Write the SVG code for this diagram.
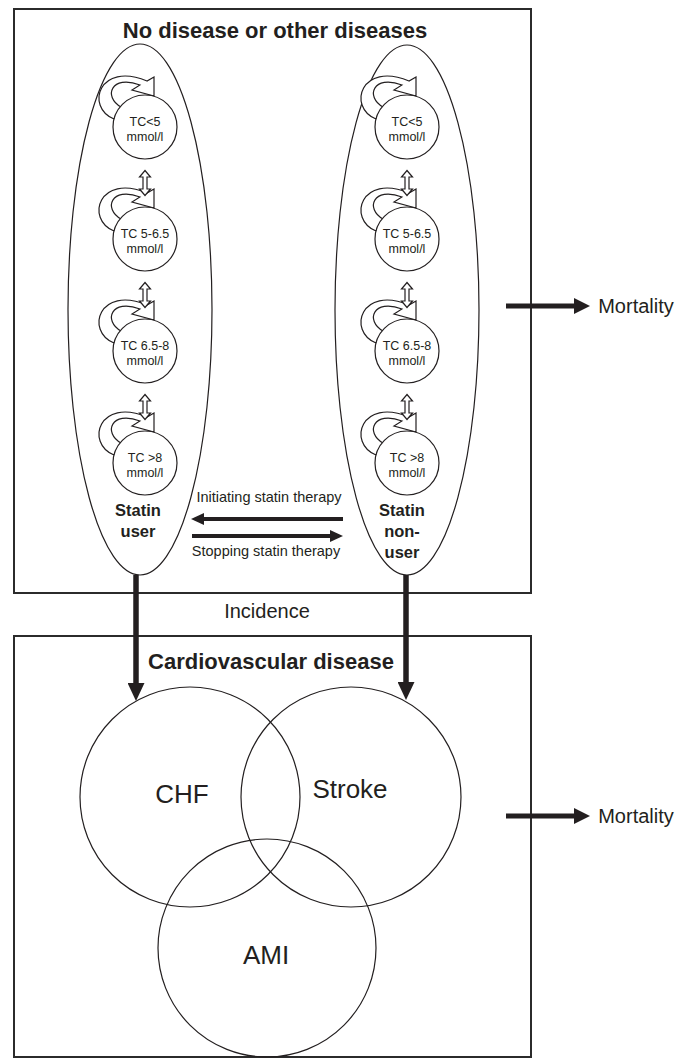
<svg xmlns="http://www.w3.org/2000/svg" xmlns:xlink="http://www.w3.org/1999/xlink" width="686" height="1063" viewBox="0 0 686 1063">
<style>
.box{fill:none;stroke:#2b2b2b;stroke-width:2}
.thin{fill:none;stroke:#231f20;stroke-width:1.2}
.st{fill:#fff;stroke:#231f20;stroke-width:1.2}
.t{font-family:"Liberation Sans",Arial,sans-serif;fill:#231f20;text-anchor:middle}
.b{font-weight:bold}
.thick{stroke:#231f20;fill:none}
</style>
<defs>
<path id="loop" d="M -31,-8 C -60,-20 -46,-66 2,-46 L 9,-50 L 9,-31 L -13,-37 L -5,-42 C -34,-53 -42,-30 -24,-20 Z" class="st"/>
<polygon id="darr" points="0,-12.5 5.5,-6 2,-6 2,6 5.5,6 0,12.5 -5.5,6 -2,6 -2,-6 -5.5,-6" class="st"/>
<marker id="hh" markerUnits="userSpaceOnUse" viewBox="0 0 13 12" refX="3" refY="6" markerWidth="13" markerHeight="12" orient="auto"><path d="M0,0 L13,6 L0,12 Z" fill="#231f20"/></marker>
<marker id="vh" markerUnits="userSpaceOnUse" viewBox="0 0 18 17" refX="4" refY="8.5" markerWidth="18" markerHeight="17" orient="auto"><path d="M0,0 L18,8.5 L0,17 Z" fill="#231f20"/></marker>
<marker id="mh" markerUnits="userSpaceOnUse" viewBox="0 0 16 16" refX="4" refY="8" markerWidth="16" markerHeight="16" orient="auto"><path d="M0,0 L16,8 L0,16 Z" fill="#231f20"/></marker>
</defs>

<g id="box-no-disease">
<rect class="box" x="14" y="9" width="517" height="584"/>
<text class="t b" x="275" y="38" font-size="22">No disease or other diseases</text>
</g>
<g id="box-cvd">
<rect class="box" x="14" y="636" width="517" height="421"/>
<text class="t b" x="271" y="669" font-size="22">Cardiovascular disease</text>
</g>
<g id="incidence-label"><text class="t" x="267" y="618" font-size="20">Incidence</text></g>

<g id="statin-user">
<ellipse class="thin" cx="140" cy="309.5" rx="72" ry="265.5"/>
<text class="t b" x="138" y="516" font-size="16.5">Statin</text>
<text class="t b" x="138" y="537" font-size="16.5">user</text>
</g>
<g id="statin-nonuser">
<ellipse class="thin" cx="407" cy="310" rx="72" ry="265"/>
<text class="t b" x="402" y="516" font-size="16.5">Statin</text>
<text class="t b" x="402" y="537" font-size="16.5">non-</text>
<text class="t b" x="402" y="558" font-size="16.5">user</text>
</g>

<g id="connectors">
<use xlink:href="#loop" x="145" y="127"/>
<use xlink:href="#loop" x="145" y="239"/>
<use xlink:href="#loop" x="145" y="351"/>
<use xlink:href="#loop" x="145" y="463"/>
<use xlink:href="#loop" x="407" y="127"/>
<use xlink:href="#loop" x="407" y="239"/>
<use xlink:href="#loop" x="407" y="351"/>
<use xlink:href="#loop" x="407" y="463"/>
<use xlink:href="#darr" x="145" y="183"/>
<use xlink:href="#darr" x="145" y="295"/>
<use xlink:href="#darr" x="145" y="407"/>
<use xlink:href="#darr" x="407" y="183"/>
<use xlink:href="#darr" x="407" y="295"/>
<use xlink:href="#darr" x="407" y="407"/>
<line class="thick" stroke-width="4" x1="343" y1="519" x2="201" y2="519" marker-end="url(#hh)"/>
<line class="thick" stroke-width="4" x1="192" y1="536" x2="333" y2="536" marker-end="url(#hh)"/>
<text class="t" x="269" y="502" font-size="14.5">Initiating statin therapy</text>
<text class="t" x="266" y="556" font-size="14.5">Stopping statin therapy</text>
<line class="thick" stroke-width="5.5" x1="136" y1="575" x2="136" y2="687" marker-end="url(#vh)"/>
<line class="thick" stroke-width="5.5" x1="406" y1="575" x2="406" y2="686" marker-end="url(#vh)"/>
<line class="thick" stroke-width="5" x1="506" y1="306" x2="578" y2="306" marker-end="url(#mh)"/>
<line class="thick" stroke-width="5" x1="506" y1="816" x2="578" y2="816" marker-end="url(#mh)"/>
</g>
<g id="mortality-1"><text class="t" x="636" y="313" font-size="20">Mortality</text></g>
<g id="mortality-2"><text class="t" x="636" y="823" font-size="20">Mortality</text></g>

<g id="tc-lt5-user"><circle class="st" cx="145" cy="127" r="32"/><text class="t" x="145" y="126" font-size="12.5">TC&lt;5</text><text class="t" x="145" y="141" font-size="12.5">mmol/l</text></g>
<g id="tc-5-65-user"><circle class="st" cx="145" cy="239" r="32"/><text class="t" x="145" y="238" font-size="12.5">TC 5-6.5</text><text class="t" x="145" y="253" font-size="12.5">mmol/l</text></g>
<g id="tc-65-8-user"><circle class="st" cx="145" cy="351" r="32"/><text class="t" x="145" y="350" font-size="12.5">TC 6.5-8</text><text class="t" x="145" y="365" font-size="12.5">mmol/l</text></g>
<g id="tc-gt8-user"><circle class="st" cx="145" cy="463" r="32"/><text class="t" x="145" y="462" font-size="12.5">TC &gt;8</text><text class="t" x="145" y="477" font-size="12.5">mmol/l</text></g>
<g id="tc-lt5-non"><circle class="st" cx="407" cy="127" r="32"/><text class="t" x="407" y="126" font-size="12.5">TC&lt;5</text><text class="t" x="407" y="141" font-size="12.5">mmol/l</text></g>
<g id="tc-5-65-non"><circle class="st" cx="407" cy="239" r="32"/><text class="t" x="407" y="238" font-size="12.5">TC 5-6.5</text><text class="t" x="407" y="253" font-size="12.5">mmol/l</text></g>
<g id="tc-65-8-non"><circle class="st" cx="407" cy="351" r="32"/><text class="t" x="407" y="350" font-size="12.5">TC 6.5-8</text><text class="t" x="407" y="365" font-size="12.5">mmol/l</text></g>
<g id="tc-gt8-non"><circle class="st" cx="407" cy="463" r="32"/><text class="t" x="407" y="462" font-size="12.5">TC &gt;8</text><text class="t" x="407" y="477" font-size="12.5">mmol/l</text></g>

<g id="chf"><circle class="thin" cx="190" cy="797" r="110"/><text class="t" x="182" y="803" font-size="26">CHF</text></g>
<g id="stroke"><circle class="thin" cx="351" cy="797" r="110"/><text class="t" x="350" y="798" font-size="26">Stroke</text></g>
<g id="ami"><circle class="thin" cx="267" cy="948" r="109"/><text class="t" x="266" y="964" font-size="26">AMI</text></g>
</svg>
